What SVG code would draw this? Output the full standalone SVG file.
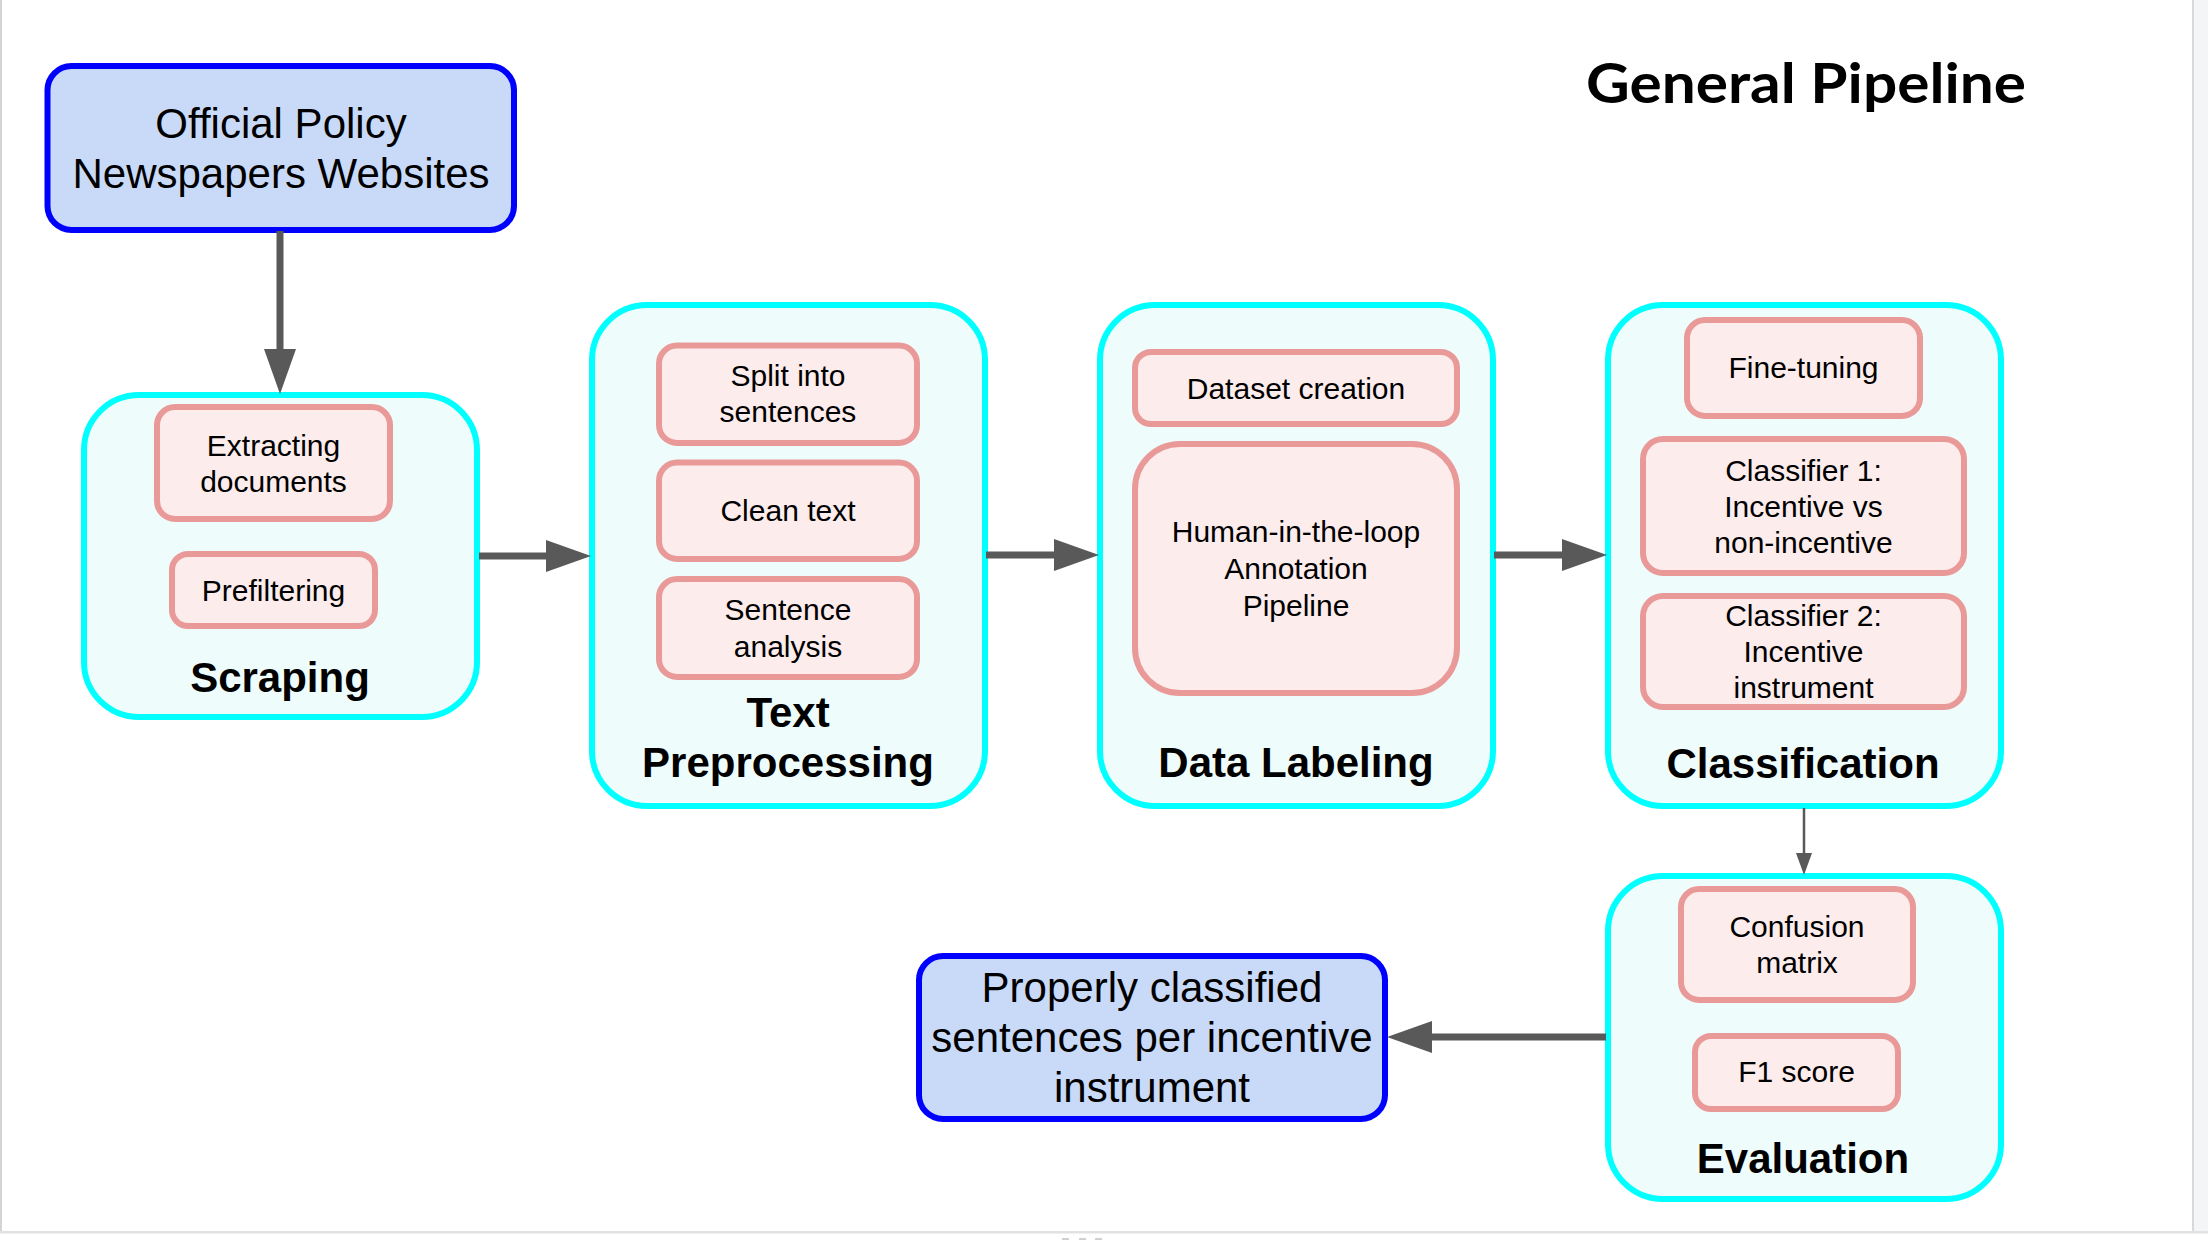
<svg xmlns="http://www.w3.org/2000/svg" width="2208" height="1240" viewBox="0 0 2208 1240">
  <style>
    .stage { fill: #eefcfc; stroke: #00ffff; stroke-width: 6; }
    .step { fill: #fcecec; stroke: #ea9999; stroke-width: 6; }
    .io { fill: #c9daf8; stroke: #0000ff; stroke-width: 6; }
    .t { font-family: "Liberation Sans", Arial, sans-serif; font-size: 30px; fill: #000; text-anchor: middle; }
    .io-t { font-size: 42px; }
    .title { font-family: "Liberation Sans", Arial, sans-serif; font-weight: bold; font-size: 42px; fill: #000; text-anchor: middle; }
    .conn { stroke: #595959; stroke-width: 7; fill: none; }
    .conn-thin { stroke: #595959; stroke-width: 2.5; fill: none; }
  </style>
  <defs>
    <marker id="head" markerUnits="userSpaceOnUse" markerWidth="46" markerHeight="32" refX="0" refY="16" orient="auto">
      <path d="M0,0 L45,16 L0,32 Z" fill="#595959"/>
    </marker>
    <marker id="head-small" markerUnits="userSpaceOnUse" markerWidth="23" markerHeight="16" refX="0" refY="8" orient="auto">
      <path d="M0,0 L22,8 L0,16 Z" fill="#595959"/>
    </marker>
  </defs>

  <!-- page frame -->
  <rect x="0" y="0" width="2208" height="1240" fill="#ffffff"/>
  <rect x="2194" y="0" width="14" height="1232" fill="#f4f5f7"/>
  <rect x="2192" y="0" width="2" height="1233" fill="#d9d9d9"/>
  <rect x="0" y="0" width="2" height="1233" fill="#d4d4d4"/>
  <rect x="0" y="1231" width="2208" height="2.5" fill="#e2e2e2"/>
  <rect x="1062" y="1238" width="7" height="2" fill="#d0d0d0"/>
  <rect x="1079" y="1238" width="7" height="2" fill="#d0d0d0"/>
  <rect x="1095" y="1238" width="7" height="2" fill="#d0d0d0"/>

  <text x="1806" y="103" font-family="Lato, 'Open Sans', sans-serif" font-weight="bold" font-size="56" text-anchor="middle" textLength="440" lengthAdjust="spacingAndGlyphs">General Pipeline</text>

  <g id="source">
    <rect class="io" x="47.5" y="66" width="466.5" height="164" rx="24"/>
    <text class="t io-t" x="281" y="138">Official Policy</text>
    <text class="t io-t" x="281" y="188">Newspapers Websites</text>
  </g>

  <g id="scraping">
    <rect class="stage" x="84" y="395" width="393" height="322" rx="55"/>
    <rect class="step" x="157" y="407" width="233" height="112" rx="18"/>
    <text class="t" x="273.5" y="456">Extracting</text>
    <text class="t" x="273.5" y="492">documents</text>
    <rect class="step" x="172" y="554" width="203" height="72" rx="16"/>
    <text class="t" x="273.5" y="601">Prefiltering</text>
    <text class="title" x="280" y="692">Scraping</text>
  </g>

  <g id="text-preprocessing">
    <rect class="stage" x="592" y="305" width="393" height="501" rx="55"/>
    <rect class="step" x="659" y="345.5" width="258" height="97.5" rx="18"/>
    <text class="t" x="788" y="386">Split into</text>
    <text class="t" x="788" y="422">sentences</text>
    <rect class="step" x="659" y="462.5" width="258" height="96.5" rx="18"/>
    <text class="t" x="788" y="521">Clean text</text>
    <rect class="step" x="659" y="579" width="258" height="98" rx="18"/>
    <text class="t" x="788" y="620">Sentence</text>
    <text class="t" x="788" y="657">analysis</text>
    <text class="title" x="788" y="727">Text</text>
    <text class="title" x="788" y="777">Preprocessing</text>
  </g>

  <g id="data-labeling">
    <rect class="stage" x="1100" y="305" width="393" height="501" rx="55"/>
    <rect class="step" x="1135" y="352" width="322" height="72" rx="16"/>
    <text class="t" x="1296" y="399">Dataset creation</text>
    <rect class="step" x="1135" y="444" width="322" height="249" rx="45"/>
    <text class="t" x="1296" y="542" font-size="28">Human-in-the-loop</text>
    <text class="t" x="1296" y="579" font-size="28">Annotation</text>
    <text class="t" x="1296" y="616" font-size="28">Pipeline</text>
    <text class="title" x="1296" y="777">Data Labeling</text>
  </g>

  <g id="classification">
    <rect class="stage" x="1608" y="305" width="393" height="501" rx="55"/>
    <rect class="step" x="1687" y="320" width="233" height="96" rx="18"/>
    <text class="t" x="1803.5" y="378">Fine-tuning</text>
    <rect class="step" x="1643" y="439" width="321" height="134" rx="20"/>
    <text class="t" x="1803.5" y="481">Classifier 1:</text>
    <text class="t" x="1803.5" y="517">Incentive vs</text>
    <text class="t" x="1803.5" y="553">non-incentive</text>
    <rect class="step" x="1643" y="596" width="321" height="111" rx="20"/>
    <text class="t" x="1803.5" y="626">Classifier 2:</text>
    <text class="t" x="1803.5" y="662">Incentive</text>
    <text class="t" x="1803.5" y="698">instrument</text>
    <text class="title" x="1803" y="778">Classification</text>
  </g>

  <g id="evaluation">
    <rect class="stage" x="1608" y="876" width="393" height="323" rx="55"/>
    <rect class="step" x="1681" y="889" width="232" height="111" rx="18"/>
    <text class="t" x="1797" y="937">Confusion</text>
    <text class="t" x="1797" y="973">matrix</text>
    <rect class="step" x="1695" y="1036" width="203" height="73" rx="16"/>
    <text class="t" x="1796.5" y="1082">F1 score</text>
    <text class="title" x="1803" y="1173">Evaluation</text>
  </g>

  <g id="output">
    <rect class="io" x="919" y="956" width="466" height="163" rx="24"/>
    <text class="t io-t" x="1152" y="1002">Properly classified</text>
    <text class="t io-t" x="1152" y="1052">sentences per incentive</text>
    <text class="t io-t" x="1152" y="1102">instrument</text>
  </g>

  <g id="connectors">
    <line class="conn" x1="280" y1="231" x2="280" y2="349" marker-end="url(#head)"/>
    <line class="conn" x1="479" y1="556" x2="546" y2="556" marker-end="url(#head)"/>
    <line class="conn" x1="986" y1="555" x2="1054" y2="555" marker-end="url(#head)"/>
    <line class="conn" x1="1494" y1="555" x2="1562" y2="555" marker-end="url(#head)"/>
    <line class="conn-thin" x1="1804" y1="808" x2="1804" y2="853" marker-end="url(#head-small)"/>
    <line class="conn" x1="1606" y1="1037" x2="1432" y2="1037" marker-end="url(#head)"/>
  </g>
</svg>
